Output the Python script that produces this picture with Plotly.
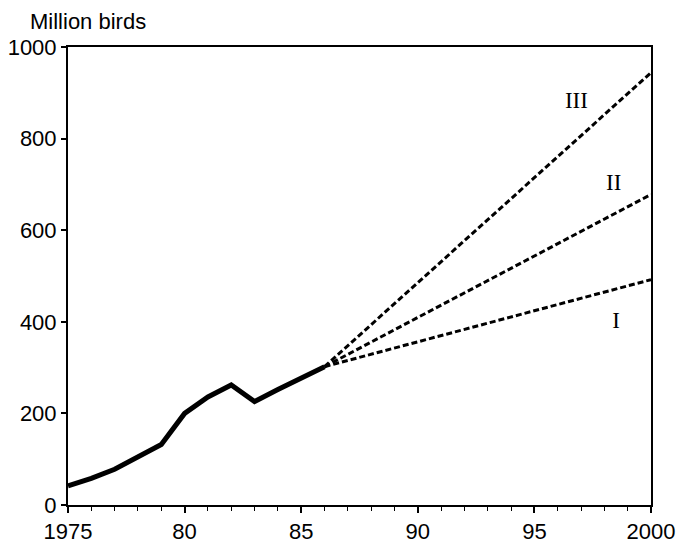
import plotly.graph_objects as go

# Observed data
years = [1975, 1976, 1977, 1978, 1979, 1980, 1981, 1982, 1983, 1984, 1985, 1986]
birds = [42, 58, 78, 104, 132, 200, 236, 262, 226, 252, 278, 302]

# Projections (start, end)
proj_years = [1986, 2000]
proj_I = [302, 492]
proj_II = [302, 678]
proj_III = [302, 944]

label_text = ["III", "II", "I"]
label_x = [1996.8, 1998.4, 1998.5]
label_y = [880, 700, 400]

fig = go.Figure()
fig.add_trace(go.Scatter(x=years, y=birds, mode="lines",
                         line=dict(color="black", width=5), showlegend=False))
for ys in (proj_I, proj_II, proj_III):
    fig.add_trace(go.Scatter(x=proj_years, y=ys, mode="lines",
                             line=dict(color="black", width=3, dash="6px,3px"),
                             showlegend=False))
fig.add_trace(go.Scatter(x=label_x, y=label_y, mode="text", text=label_text,
                         textfont=dict(size=23, color="black", family="Liberation Serif"),
                         showlegend=False))

fig.update_layout(
    width=680, height=545,
    margin=dict(l=68, r=29, t=47, b=40),
    plot_bgcolor="white", paper_bgcolor="white",
    font=dict(family="Liberation Sans, Arial", size=22, color="black"),
    annotations=[dict(text="Million birds", x=0, y=1, xref="paper", yref="paper",
                      xanchor="left", yanchor="bottom", showarrow=False,
                      font=dict(size=22), xshift=-40, yshift=11)],
)
fig.update_xaxes(range=[1975, 2000], tickvals=[1975, 1980, 1985, 1990, 1995, 2000],
                 ticktext=["1975", "80", "85", "90", "95", "2000"],
                 ticks="outside", ticklen=6, tickwidth=1.5, tickcolor="black",
                 minor=dict(dtick=1, ticks="outside", ticklen=4, tickcolor="black", tickwidth=1),
                 showline=True, linecolor="black", linewidth=2, mirror=True,
                 showgrid=False, zeroline=False, fixedrange=True, automargin=False)
fig.update_yaxes(range=[0, 1000], dtick=200,
                 ticks="outside", ticklen=5, tickwidth=1.5, tickcolor="black",
                 showline=True, linecolor="black", linewidth=2, mirror=True,
                 showgrid=False, zeroline=False, fixedrange=True, automargin=False)

fig.write_html("out.html")
